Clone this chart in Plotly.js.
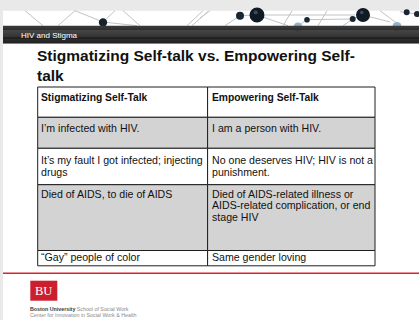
<!DOCTYPE html>
<html><head><meta charset="utf-8">
<script src="https://cdn.plot.ly/plotly-3.0.1.min.js"></script>
<style>html,body{margin:0;padding:0;background:#e8e9e8;overflow:hidden}#chart{width:419px;height:320px}</style>
</head><body><div id="chart"></div>
<script>
// ---- content (data) ----
const sectionLabel = "HIV and Stigma";
const titleLines = ["Stigmatizing Self-talk vs. Empowering Self-", "talk"];
const headers = ["Stigmatizing Self-Talk", "Empowering Self-Talk"];
const stigmatizing = [
  "I’m infected with HIV.",
  "It’s my fault I got infected; injecting<br>drugs",
  "Died of AIDS, to die of AIDS",
  "“Gay” people of color"
];
const empowering = [
  "I am a person with HIV.",
  "No one deserves HIV; HIV is not a<br>punishment.",
  "Died of AIDS-related illness or<br>AIDS-related complication, or end<br>stage HIV",
  "Same gender loving"
];
const logoText = "BU";
const footerLine1 = ["Boston University", " School of Social Work"];
const footerLine2 = "Center for Innovation in Social Work & Health";

// ---- layout geometry & styles ----
const FONT = "Liberation Sans, Arial, sans-serif";
const G = {
  colEdges: [37.7, 207.6, 375],
  rowEdges: [87, 117.3, 148.3, 184.7, 250.5, 265.8],
  firstLine: [97.3, 128.3, 160, 193.5, 257.3],
  lineGap: 11.7,
  padX: [3.3, 4],
  rowFill: ['#ffffff', '#d3d3d3', '#ffffff', '#d3d3d3', '#ffffff']
};
const decorLines = [
  [25,10.7,43,25.7],[58,25.7,75,10.7],[75,10.7,103,22],[103,22,115,10.7],[103,22,137,25.7],
  [123,10.7,140,25.7],[187,25.7,203,10.7],[192,25.7,208,11.5],[200,18,210,10.7],
  [240,15.7,257,15],[257,15,288,25.7],[265,15,355,15],[283,25.7,292,10.7],[307,19.7,298,25.7],
  [327,10.7,318,25.7],[343,25.7,353,19],[363,15,390,22],[380,10.7,400,25.7],[400,11.7,417,14],
  [352,19,363,15],[307,19.7,352,19],[240,15.7,225,25.7]
];
const spheres = [
  [103,22.5,4.2,'#17222c'],[240,15.7,4,'#1a2631'],[257,15,7.5,'#101a24'],[307,19.7,2.8,'#1a2631'],
  [352.7,19,3,'#1a2631'],[363,15,7,'#101a24'],[406.7,12.3,3,'#1a2631'],[417,14,3,'#1a2631'],
  [298,27,4.5,'#8fb3cc'],[397,26.5,4.5,'#8fb3cc']
];

const shapes = [];
const annotations = [];
function rect(x0,y0,x1,y1,fill,lc,lw){
  shapes.push({type:'rect',xref:'x',yref:'y',x0,y0,x1,y1,fillcolor:fill,
    line:{color:lc||'rgba(0,0,0,0)',width:lw||0},layer:'above'});
}
function text(t,x,y,size,color,opts){
  annotations.push(Object.assign({text:t,x,y,xref:'x',yref:'y',showarrow:false,
    xanchor:'left',yanchor:'middle',borderpad:0,borderwidth:0,
    font:{family:FONT,size,color}},opts||{}));
}

// slide
rect(3,10.7,419,320,'#ffffff');
decorLines.forEach(l=>shapes.push({type:'line',xref:'x',yref:'y',x0:l[0],y0:l[1],x1:l[2],y1:l[3],
  line:{color:'#bfc4c8',width:1},layer:'above'}));
spheres.forEach(s=>{
  shapes.push({type:'circle',xref:'x',yref:'y',x0:s[0]-s[2],x1:s[0]+s[2],y0:s[1]-s[2],y1:s[1]+s[2],
    fillcolor:s[3],line:{width:0},layer:'above'});
  if (s[2]>5) shapes.push({type:'circle',xref:'x',yref:'y',x0:s[0]-s[2]*0.45,x1:s[0]+s[2]*0.1,
    y0:s[1]-s[2]*0.6,y1:s[1]-s[2]*0.1,fillcolor:'#3b4a58',line:{width:0},layer:'above'});
});
// black header bar with gradient
const barTop = 25.7, barBot = 43.2, strips = 18;
for (let i=0;i<strips;i++){
  const t = i/(strips-1);
  const v = Math.round(58*(1-t) + 4*t);
  rect(3, barTop+(barBot-barTop)*i/strips, 419, barTop+(barBot-barTop)*(i+1)/strips+0.3, `rgb(${v},${v},${v})`);
}
text(sectionLabel, 21, 35.3, 8, '#ffffff');

// title
titleLines.forEach((t,i)=>text('<b>'+t+'</b>', 37, 55.3 + i*20.5, 15.5, '#111111'));

// table
const rows = [headers].concat(stigmatizing.map((s,i)=>[s, empowering[i]]));
rows.forEach((row,r)=>{
  for (let c=0;c<2;c++){
    rect(G.colEdges[c], G.rowEdges[r], G.colEdges[c+1], G.rowEdges[r+1], G.rowFill[r], '#1e1e1e', 1);
  }
});
rows.forEach((row,r)=>{
  row.forEach((cell,c)=>{
    cell.split('<br>').forEach((ln,k)=>{
      text(r===0 ? '<b>'+ln+'</b>' : ln, G.colEdges[c]+G.padX[c], G.firstLine[r]+k*G.lineGap,
           r===0 ? 10.3 : 10.6, '#111111');
    });
  });
});

// footer
shapes.push({type:'line',xref:'x',yref:'y',x0:3,x1:419,y0:273.3,y1:273.3,line:{color:'#d7252f',width:1.5},layer:'above'});
rect(30.3,280.7,57.3,300.7,'#cc1f2d');
text(logoText, 43.8, 291.2, 12.5, '#ffffff', {xanchor:'center', font:{family:'Liberation Serif, Times New Roman, serif', size:12.5, color:'#ffffff'}});
text('<b>'+footerLine1[0]+'</b><span style="color:#8a8a8a">'+footerLine1[1]+'</span>', 30, 309, 5.3, '#3a3a3a');
text(footerLine2, 30, 315, 5.3, '#8a8a8a');

const layout = {
  width:419, height:320, margin:{l:0,r:0,t:0,b:0},
  paper_bgcolor:'#e8e9e8', plot_bgcolor:'rgba(0,0,0,0)',
  xaxis:{range:[0,419], visible:false, fixedrange:true},
  yaxis:{range:[320,0], visible:false, fixedrange:true},
  showlegend:false, shapes, annotations
};
Plotly.newPlot('chart', [{type:'scatter', x:[0], y:[0], mode:'markers', marker:{opacity:0}, hoverinfo:'skip'}], layout, {staticPlot:true, displayModeBar:false});
</script></body></html>
